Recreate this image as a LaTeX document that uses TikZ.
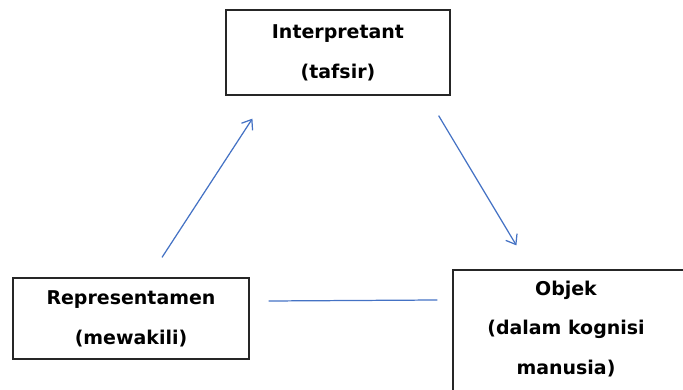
\documentclass[tikz,border=0pt]{standalone}
\usepackage{fontspec}
\setmainfont{DejaVu Sans}
\usetikzlibrary{arrows.meta}
\definecolor{arrblue}{RGB}{68,114,196}

\tikzset{
  sign/.style={draw=black!85, line width=0.7pt, align=center, inner sep=0pt,
    font=\fontsize{10.8pt}{22.7pt}\selectfont\bfseries},
  label text/.style={align=center, inner sep=0pt,
    font=\fontsize{10.8pt}{22.7pt}\selectfont\bfseries},
  arr/.style={arrblue, line width=0.7pt, -{Straight Barb[length=5pt,width=7.5pt]}}
}

\begin{document}
\begin{tikzpicture}[x=0.02cm, y=0.02cm]
\useasboundingbox (0,0) rectangle (683,389);
\clip (0,0) rectangle (683,389);

% boxes
\node[sign, minimum width=4.48cm, minimum height=1.7cm] (interp) at (338,336.5) {Interpretant\\(tafsir)};
\node[sign, minimum width=4.72cm, minimum height=1.62cm] (repr) at (131,70.5) {Representamen\\(mewakili)};
% right box runs past the page edge
\node[sign, minimum width=5.0cm, minimum height=2.8cm] (objek) at (578,49) {};
\node[label text] (objek-text) at (566,60) {Objek\\(dalam kognisi\\manusia)};

% connectors
\draw[arr] ([shift={(31,20)}]repr.north) -- ([shift={(27,-23)}]interp.south west);
\draw[arr] ([shift={(-12,-20)}]interp.south east) -- ([shift={(64,24)}]objek.north west);
\draw[arrblue, line width=0.7pt] ([shift={(19,17.5)}]repr.east) -- ([shift={(-15,40)}]objek.west);

\end{tikzpicture}
\end{document}
